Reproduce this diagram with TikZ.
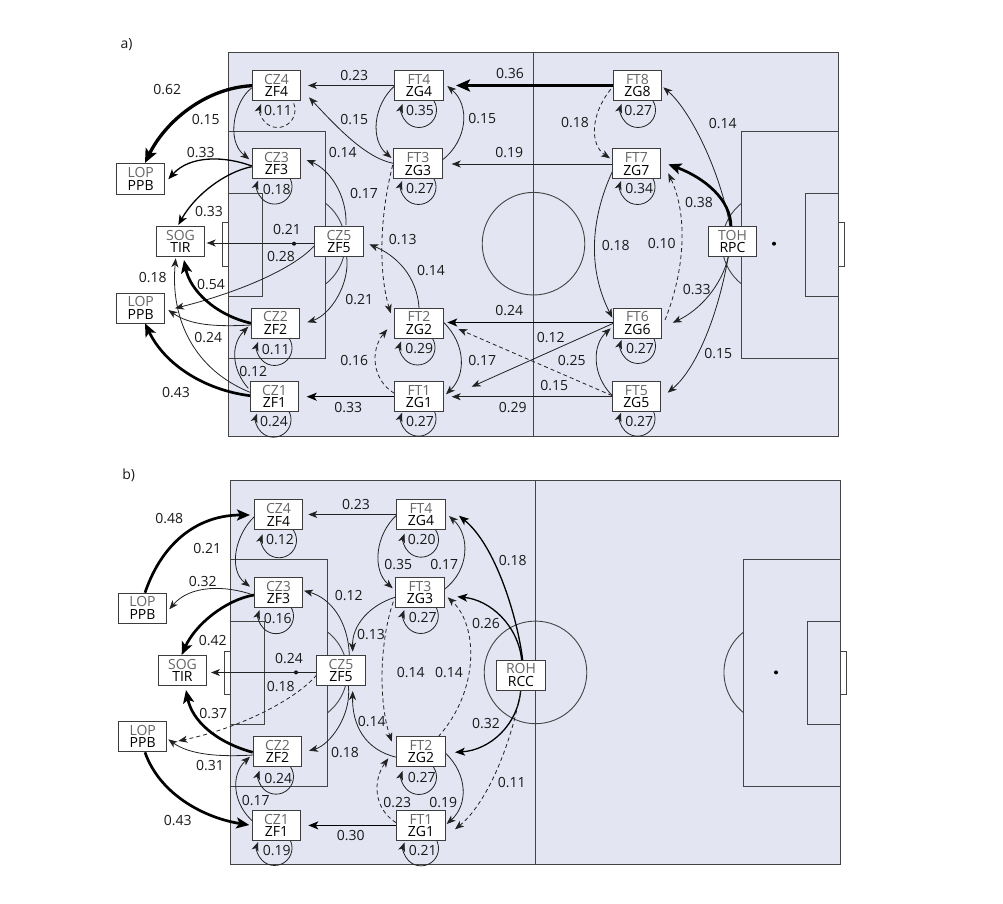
\documentclass[tikz,border=0pt]{standalone}
\usepackage{fontspec}
\setmainfont{Open Sans}
\usetikzlibrary{arrows.meta}
\pgfdeclarelayer{under}
\pgfsetlayers{under,main}
\definecolor{pitchfill}{HTML}{E3E5F3}
\definecolor{pitchline}{HTML}{444444}
\definecolor{edgeline}{HTML}{222222}
\definecolor{toptext}{HTML}{666666}
\definecolor{boxline}{HTML}{3C3C3C}
\tikzset{
  pitchstroke/.style={draw=pitchline,line width=.9pt},
  pbox/.style={draw=boxline,fill=white,line width=1pt,minimum width=48.5pt,minimum height=30pt,inner sep=0pt,align=center,font=\fontsize{14}{12.3}\selectfont},
  lbl/.style={inner sep=0pt,font=\fontsize{14}{15}\selectfont,text=black!90},
  edge/.style={draw=edgeline,line width=.8pt,-{Stealth[length=9pt,width=7pt,inset=2.5pt]}},
  w1/.style={draw=black,line width=1.3pt,-{Stealth[length=10pt,width=8pt,inset=2.5pt]}},
  w2/.style={draw=black,line width=2.7pt,-{Stealth[length=13pt,width=11pt,inset=3pt]}},
  w3/.style={draw=black,line width=3.3pt,-{Stealth[length=14pt,width=12pt,inset=3pt]}},
  dsh/.style={dash pattern=on 4pt off 3pt}
}
\newcounter{lbn}
\newcommand\Lb[3]{\stepcounter{lbn}\node[lbl] (lb\arabic{lbn}) at (#1,#2) {#3};}
\newcommand\Bx[5]{\node[pbox] (#1) at (#2,#3) {\textcolor{toptext}{#4}\\#5};}
\newcommand\Cv[7][]{\draw[edge,#1] ([shift={(#3)}]#2.center) .. controls (#4) and (#5) .. ([shift={(#7)}]#6.center);}
\newcommand\Ln[5][]{\draw[edge,#1] ([shift={(#3)}]#2.center) -- ([shift={(#5)}]#4.center);}
\newcommand\Lo[4][]{\draw[edge,#1] ([shift={(#3+12.4,#4-12.4)}]#2.center) arc[start angle=45,end angle=-200,radius=17.5pt];}
\newcommand\Pitch{%
  \draw[pitchstroke,fill=pitchfill] (228.5,52) rectangle (838.5,436);
  \draw[pitchstroke] (533.5,52) -- (533.5,436);
  \draw[pitchstroke] (533.5,243.7) circle[radius=51.3pt];
  \draw[pitchstroke] (228.5,131) -| (325.6,358) -- (228.5,358);
  \draw[pitchstroke] (228.5,193) -| (262.3,296) -- (228.5,296);
  \draw[pitchstroke] (228.5,222.7) -- (222.5,222.7) -- (222.5,266) -- (228.5,266);
  \draw[pitchstroke] (325.6,203.3) arc[start angle=51.9,end angle=-51.9,radius=51.3pt];
  \fill[black] (294,243.7) circle[radius=2pt];
  \draw[pitchstroke] (838.5,131) -| (741.6,358) -- (838.5,358);
  \draw[pitchstroke] (838.5,193) -| (805.5,296) -- (838.5,296);
  \draw[pitchstroke] (838.5,222.7) -- (844.5,222.7) -- (844.5,266) -- (838.5,266);
  \draw[pitchstroke] (741.6,203.3) arc[start angle=128.1,end angle=231.9,radius=51.3pt];
  \fill[black] (774,243.7) circle[radius=2pt];
}
\begin{document}
\begin{tikzpicture}[x=1pt,y=-1pt]
\useasboundingbox (0,0) rectangle (1003,904);
% panel a boxes
\Bx{c4}{276.5}{85.7}{CZ4}{ZF4}
\Bx{c3}{276.5}{163.6}{CZ3}{ZF3}
\Bx{c5}{339}{241.5}{CZ5}{ZF5}
\Bx{c2}{275.5}{323}{CZ2}{ZF2}
\Bx{c1}{274.5}{396.7}{CZ1}{ZF1}
\Bx{f4}{419}{85.5}{FT4}{ZG4}
\Bx{f3}{418}{164}{FT3}{ZG3}
\Bx{f2}{419}{323}{FT2}{ZG2}
\Bx{f1}{419}{396.7}{FT1}{ZG1}
\Bx{f8}{637.5}{85.5}{FT8}{ZG8}
\Bx{f7}{636.3}{164}{FT7}{ZG7}
\Bx{f6}{637.5}{323}{FT6}{ZG6}
\Bx{f5}{636.3}{396.7}{FT5}{ZG5}
\Bx{lu}{140.7}{179}{LOP}{PPB}
\Bx{so}{180.5}{241.5}{SOG}{TIR}
\Bx{ld}{140.7}{308}{LOP}{PPB}
\Bx{to}{732.5}{241.7}{TOH}{RPC}
% panel b boxes
\Bx{bc4}{278.5}{514.8}{CZ4}{ZF4}
\Bx{bc3}{278.5}{592.5}{CZ3}{ZF3}
\Bx{bc5}{341}{670.5}{CZ5}{ZF5}
\Bx{bc2}{277.5}{751.7}{CZ2}{ZF2}
\Bx{bc1}{276.5}{825.4}{CZ1}{ZF1}
\Bx{bf4}{421}{514.2}{FT4}{ZG4}
\Bx{bf3}{420}{592.7}{FT3}{ZG3}
\Bx{bf2}{421}{751.7}{FT2}{ZG2}
\Bx{bf1}{421}{825.4}{FT1}{ZG1}
\Bx{blu}{142.5}{608}{LOP}{PPB}
\Bx{bso}{182.5}{670.5}{SOG}{TIR}
\Bx{bld}{142.7}{736.7}{LOP}{PPB}
\Bx{bro}{521}{675}{ROH}{RCC}
\begin{pgfonlayer}{under}
\Pitch
\begin{scope}[shift={(2,428.7)}]\Pitch\end{scope}
% panel a edges
\Cv[w3]{c4}{-24.5,0}{205,88}{165,122}{lu}{4.3,-16}
\Cv{c4}{-24.8,2.3}{235,100}{225,140}{c3}{-27.2,-4.3}
\Cv[w1]{c3}{-24.8,2.4}{225,156}{190,155}{lu}{27.6,.3}
\Cv[w1]{c3}{-24.8,3.1}{225,172}{195,195}{so}{-2.2,-16.5}
\Cv{c5}{7,-16.5}{347,195}{330,170}{c3}{30.2,-3.6}
\Cv{f3}{-24.7,-.7}{365,158}{335,125}{c4}{32.5,11.6}
\Ln{f4}{-24.3,0}{c4}{31.5,-.2}
\Cv{f4}{-24,0}{373,105}{370,140}{f3}{-26.5,-6}
\Cv{f3}{24.3,-4}{468,140}{470,105}{f4}{28.3,.5}
\Ln[w3]{f8}{-24.2,0}{f4}{37,0}
\Cv[dsh]{f8}{-26.8,3.8}{590,115}{590,145}{f7}{-26.3,-5.7}
\Ln{f7}{-24.3,0}{f3}{33.7,0}
\Cv{to}{-2.5,-15}{720,170}{690,110}{f8}{25.8,1.8}
\Cv[w2]{to}{-1.5,-15}{731,200}{705,178}{f7}{32,.3}
\Cv[dsh]{f6}{27.5,-3}{685,270}{688,215}{f7}{32,9.3}
\Cv{f7}{-24,7.7}{590,220}{588,270}{f6}{-25.2,-5.3}
\Cv{to}{-4.2,15}{722,285}{700,310}{f6}{35.2,-.3}
\Cv{to}{-4.2,15}{717,320}{695,370}{f5}{31.4,-4}
\Ln[w1]{f6}{-24.2,-.5}{f2}{28.3,-.5}
\Ln[dsh]{f5}{-24.3,-1.1}{f2}{39.3,6}
\Ln{f6}{-24.2,.3}{f1}{52.7,-10}
\Cv{f5}{-24.6,-1.7}{592,375}{592,345}{f6}{-26.8,5.3}
\Ln{f5}{-24.3,0}{f1}{32.7,0}
\Cv{f2}{25,-.3}{466,345}{466,375}{f1}{27,-2.4}
\Cv[dsh]{f1}{-24.7,-3.4}{372,380}{370,350}{f2}{-31.7,6.3}
\Cv[dsh]{f3}{-25.3,1}{380,215}{378,270}{f2}{-28.3,-9.7}
\Cv{f2}{0,-15}{417,275}{395,255}{c5}{30.3,2.8}
\Cv{c5}{7.7,15}{350,285}{330,315}{c2}{31.8,-.7}
\Ln{c5}{-24,1.5}{so}{26.2,1.5}
\Cv{c5}{-24,3.5}{295,268}{240,292}{ld}{34.3,.3}
\Cv[w2]{c2}{-24.2,.3}{215,315}{190,290}{so}{3.5,18.5}
\Cv{c2}{-24.2,2}{215,327}{190,325}{ld}{27.6,2}
\Cv{c1}{-24.5,-4.4}{195,370}{170,320}{so}{-4.8,16.8}
\Cv[w2]{c1}{-24.5,-1}{205,390}{165,365}{ld}{4.3,15.3}
\Cv{c1}{-26.2,-8.4}{232,370}{230,345}{c2}{-27.2,3.7}
\Ln[w1]{f1}{-24.3,0}{c1}{32.2,0}
% panel a loops
\Lo[dsh]{c4}{1}{24.3}
\Lo{c3}{-2}{23}
\Lo{c2}{-1}{25}
\Lo{c1}{-1}{23}
\Lo{f4}{0}{24.5}
\Lo{f3}{.5}{23}
\Lo{f2}{-1.5}{24.5}
\Lo{f1}{-.5}{22}
\Lo{f8}{.5}{24.5}
\Lo{f7}{1.2}{23}
\Lo{f6}{.5}{23}
\Lo{f5}{1.2}{22}
% panel b edges
\Cv[w2]{blu}{2.5,-15.3}{163,540}{200,515}{bc4}{-28.5,.2}
\Cv{bc4}{-24.2,1.9}{235,535}{228,570}{bc3}{-28.5,-5.8}
\Cv{bc3}{-25.2,2.5}{225,585}{190,585}{blu}{26.8,1.3}
\Cv[w2]{bc3}{-24.5,2.5}{225,600}{195,625}{bso}{-.8,-15.5}
\Cv{bc5}{8.3,-15.5}{348,620}{330,598}{bc3}{25.5,-1.8}
\Cv{bf3}{-25,4.6}{370,605}{352,625}{bc5}{11.7,-18.8}
\Ln{bf4}{-24.3,.3}{bc4}{29.8,-.3}
\Cv{bf4}{-24.3,.8}{375,535}{372,570}{bf3}{-27.3,-4.4}
\Cv{bf3}{24.3,-3.4}{470,570}{470,535}{bf4}{28,1.8}
\Cv[w1]{bro}{1.7,-15}{517,615}{495,545}{bf4}{38,1.5}
\Cv[w1]{bro}{.7,-15}{518,625}{490,600}{bf3}{37.3,4}
\Cv[dsh]{bf2}{17.3,-15}{480,690}{478,625}{bf3}{27.7,4.6}
\Cv[dsh]{bf3}{-26.7,9}{380,640}{378,700}{bf2}{-29.3,-10}
\Cv{bf2}{-24.3,5.6}{365,750}{352,725}{bc5}{11.7,20.5}
\Cv[w1]{bro}{-.3,15}{518,725}{490,750}{bf2}{34,.6}
\Cv[dsh]{bro}{0,15}{510,750}{485,805}{bf1}{34,3.9}
\Cv{bf2}{24.7,1.6}{468,775}{468,805}{bf1}{25.7,-1.4}
\Cv[dsh]{bf1}{-25,-2.7}{373,808}{373,780}{bf2}{-32.7,6.6}
\Ln[w1]{bf1}{-24.3,0}{bc1}{31.8,0}
\Cv{bc5}{7.3,15}{352,715}{330,745}{bc2}{31.5,-1}
\Ln{bc5}{-24,2}{bso}{28.5,2}
\Cv[dsh]{bc5}{-24.3,4.5}{295,700}{240,728}{bld}{35.6,4.3}
\Cv[w2]{bc2}{-24.8,.6}{215,742}{192,720}{bso}{3.5,19.5}
\Cv{bc2}{-24.2,3.3}{220,757}{190,755}{bld}{25.6,2.6}
\Cv[w2]{bld}{2.3,15.6}{160,795}{205,818}{bc1}{-27.2,-.4}
\Cv{bc1}{-22.5,-3.1}{233,805}{230,775}{bc2}{-27.5,5}
% panel b loops
\Lo{bc4}{.5}{25.5}
\Lo{bc3}{-2.5}{23.7}
\Lo{bc2}{-1.5}{25}
\Lo{bc1}{-2}{22.6}
\Lo{bf4}{0}{25.5}
\Lo{bf3}{.8}{23.3}
\Lo{bf2}{-2}{25.3}
\Lo{bf1}{0}{23}
\end{pgfonlayer}
% labels a
\Lb{126.5}{45}{a)}
\Lb{167.3}{89.3}{0.62}\Lb{205.7}{119.3}{0.15}\Lb{200.7}{152.3}{0.33}\Lb{209}{212}{0.33}
\Lb{287}{229.3}{0.21}\Lb{342.7}{152.7}{0.14}\Lb{364}{193.3}{0.17}\Lb{354.3}{75.3}{0.23}\Lb{354.3}{119.3}{0.15}
\Lb{281}{256.7}{0.28}\Lb{211}{284.3}{0.54}\Lb{152.7}{277.3}{0.18}\Lb{359.3}{300}{0.21}\Lb{208.3}{337.3}{0.24}
\Lb{253.3}{371.7}{0.12}\Lb{354.3}{361}{0.16}\Lb{176}{392.3}{0.43}\Lb{348.3}{407.3}{0.33}
\Lb{510}{74}{0.36}\Lb{482.3}{119}{0.15}\Lb{575}{122.3}{0.18}\Lb{722.7}{124}{0.14}\Lb{509.3}{152.3}{0.19}
\Lb{699}{202.3}{0.38}\Lb{402.7}{240}{0.13}\Lb{431}{271}{0.14}\Lb{615.7}{245.3}{0.18}\Lb{661.7}{244}{0.10}
\Lb{696.7}{290}{0.33}\Lb{509.3}{311}{0.24}\Lb{550.7}{337.3}{0.12}\Lb{482.3}{361}{0.17}\Lb{571.7}{361}{0.25}
\Lb{554.3}{386}{0.15}\Lb{718.3}{354}{0.15}\Lb{512.7}{407.3}{0.29}
\Lb{278}{111}{0.11}\Lb{276.7}{190}{0.18}\Lb{275.7}{349.3}{0.11}\Lb{274}{421.7}{0.24}
\Lb{420}{111}{0.35}\Lb{420}{188.3}{0.27}\Lb{419.3}{349}{0.29}\Lb{420}{421.7}{0.27}
\Lb{638.3}{111}{0.27}\Lb{639.3}{189}{0.34}\Lb{640}{349}{0.27}\Lb{639.3}{421.7}{0.27}
% labels b
\Lb{128.7}{475}{b)}
\Lb{169.3}{518.3}{0.48}\Lb{207.3}{548.3}{0.21}\Lb{202.7}{581.7}{0.32}\Lb{212.7}{641}{0.42}\Lb{289}{658.3}{0.24}
\Lb{348.7}{596}{0.12}\Lb{371}{635}{0.13}\Lb{356}{505}{0.23}
\Lb{280.7}{686.7}{0.18}\Lb{213.3}{713.3}{0.37}\Lb{345}{752.3}{0.18}\Lb{371.7}{721.7}{0.14}\Lb{210}{766}{0.31}
\Lb{255.7}{800.7}{0.17}\Lb{177.7}{821}{0.43}\Lb{350.7}{836}{0.30}
\Lb{398.3}{565}{0.35}\Lb{444.3}{565}{0.17}\Lb{512.7}{561}{0.18}\Lb{486}{624}{0.26}\Lb{410.7}{672.3}{0.14}
\Lb{449}{672.3}{0.14}\Lb{486}{723.3}{0.32}\Lb{511.7}{782.3}{0.11}\Lb{397.3}{802.3}{0.23}\Lb{443.3}{802.3}{0.19}
\Lb{280}{540}{0.12}\Lb{277.7}{618.3}{0.16}\Lb{278.3}{778.3}{0.24}\Lb{276.7}{850.7}{0.19}
\Lb{421.7}{540}{0.20}\Lb{422.7}{617.3}{0.27}\Lb{421.7}{777.7}{0.27}\Lb{422.7}{850.7}{0.21}
\end{tikzpicture}
\end{document}
